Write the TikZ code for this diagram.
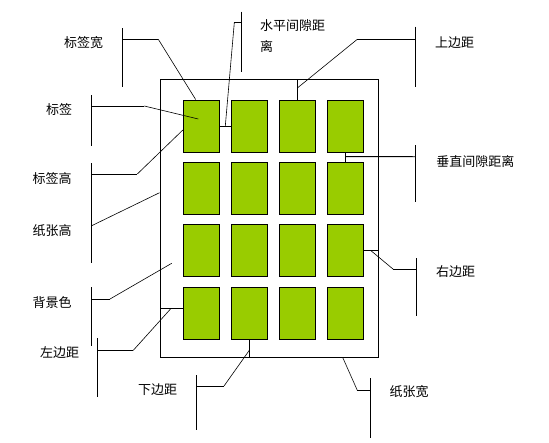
\documentclass[tikz,border=0pt]{standalone}
\usepackage{fontspec}
\newfontfamily\cjk{Noto Sans CJK SC}
\usetikzlibrary{positioning, calc}
\definecolor{labelgreen}{RGB}{153, 204, 0}
\tikzset{
  paperbox/.style={rectangle, draw=black, line width=0.9pt, fill=white,
              minimum width=218pt, minimum height=278pt, inner sep=0pt},
  labelbox/.style={rectangle, draw=black, line width=0.9pt, fill=labelgreen,
              minimum width=36pt, minimum height=52pt, inner sep=0pt},
  tag/.style={font=\cjk\fontsize{13}{21}\selectfont, inner sep=0pt},
  bar/.style={line width=0.9pt},
  lead/.style={line width=0.6pt},
}
\begin{document}
\begin{tikzpicture}[x=1pt, y=-1pt]
    \useasboundingbox (0,0) rectangle (549,442);

    % paper and the 4x4 labels
    \node[paperbox] (paper) at (269,218) {};
    \foreach \r in {1,...,4}
      \foreach \c in {1,...,4}
        \node[labelbox] (lbl-\r-\c) at ({153.3+48*\c}, {63.6+62.4*\r}) {};

    % texts
    \node[tag] (t-lblw) at (83.7,42.7) {标签宽};
    \node[tag, anchor=north west, align=left] (t-hgap) at (260,19.5) {水平间隙距\\离};
    \node[tag] (t-top) at (454.5,42.7) {上边距};
    \node[tag] (t-lbl) at (59.2,110) {标签};
    \node[tag] (t-vgap) at (475.3,161.7) {垂直间隙距离};
    \node[tag] (t-lblh) at (52.2,178.3) {标签高};
    \node[tag] (t-paperh) at (52.2,230.7) {纸张高};
    \node[tag] (t-bg) at (52.2,302.7) {背景色};
    \node[tag] (t-right) at (455.5,271.7) {右边距};
    \node[tag] (t-left) at (59.5,352.7) {左边距};
    \node[tag] (t-bottom) at (157.5,389.3) {下边距};
    \node[tag] (t-paperw) at (409.2,391.7) {纸张宽};

    % margin and gap markers
    \coordinate (hgap-mid) at ($(lbl-1-1.east)!0.5!(lbl-1-2.west)$);
    \draw[bar] (lbl-1-1.east) -- (lbl-1-2.west);
    \draw[bar] (lbl-1-3.north) -- (lbl-1-3.north |- paper.north);
    \coordinate (top-mid) at ($(lbl-1-3.north)!0.5!(lbl-1-3.north |- paper.north)$);
    \draw[bar] (lbl-1-4.south) -- (lbl-2-4.north);
    \coordinate (vgap-mid) at ($(lbl-1-4.south)!0.44!(lbl-2-4.north)$);
    \draw[bar] (lbl-3-4.east) -- (lbl-3-4.east -| paper.east);
    \coordinate (right-mid) at ($(lbl-3-4.east)!0.5!(lbl-3-4.east -| paper.east)$);
    \coordinate (left-in) at ($(lbl-4-1.west)+(0,-5)$);
    \draw[bar] (left-in) -- (left-in -| paper.west);
    \coordinate (left-mid) at ($(left-in)!0.5!(left-in -| paper.west)$);
    \draw[bar] (lbl-4-2.south) -- (lbl-4-2.south |- paper.south);
    \coordinate (bottom-mid) at ($(lbl-4-2.south)!0.6!(lbl-4-2.south |- paper.south)$);

    % callouts, left side
    \draw[bar] (122.7,28) -- (122.7,87);
    \draw[bar] (122.7,39.3) -- (158.3,39.3) coordinate (k-lblw);
    \draw[lead] (k-lblw) -- ($(lbl-1-1.north)+(-5.6,0)$);

    \draw[bar] (91.7,95) -- (91.7,145.7);
    \draw[bar] (91.7,106) -- (144.3,106) coordinate (k-lbl);
    \draw[lead] (k-lbl) -- ($(lbl-1-1.center)+(-3,-7)$);

    \draw[bar] (91.7,163.3) -- (91.7,213.3);
    \draw[bar] (91.7,174) -- (137.3,174) coordinate (k-lblh);
    \draw[lead] (k-lblh) -- ($(lbl-1-1.west)+(0,4)$);

    \draw[bar] (91.7,213.3) coordinate (k-paperh) -- (91.7,263.3);
    \draw[lead] ($(k-paperh)+(0,12.4)$) -- (paper.west |- 0,192.7);

    \draw[bar] (91.7,287.3) -- (91.7,346);
    \draw[bar] (91.7,299) -- (110,299) coordinate (k-bg);
    \draw[lead] (k-bg) -- (171.7,263.3) coordinate (bg-spot);

    \draw[bar] (97.3,338.3) -- (97.3,397.3);
    \draw[bar] (97.3,350.3) -- (133.3,350.3) coordinate (k-left);
    \draw[lead] (k-left) -- (left-mid);

    \draw[bar] (196.7,375) -- (196.7,430);
    \draw[bar] (196.7,386) -- (224,386) coordinate (k-bottom);
    \draw[lead] (k-bottom) -- (bottom-mid);

    % callouts, top and right side
    \draw[bar] (241.3,11.7) -- (241.3,71.7);
    \draw[bar] (241.3,22.7) -- (234.3,22.7) coordinate (k-hgap);
    \draw[lead] (k-hgap) -- (hgap-mid);

    \draw[bar] (415.3,26.7) -- (415.3,87.3);
    \draw[bar] (415.3,39.3) -- (357.3,39.3) coordinate (k-top);
    \draw[lead] (k-top) -- ($(top-mid)+(0,-1)$);

    \draw[bar] (415.3,145) -- (415.3,201.7);
    \draw[bar] (415.3,156.7) -- (vgap-mid);

    \draw[bar] (416,258.3) -- (416,315.7);
    \draw[bar] (416,269.3) -- (393.3,269.3) coordinate (k-right);
    \draw[lead] (k-right) -- (right-mid);

    \draw[bar] (370,378.3) -- (370,438.3);
    \draw[bar] (370,390.3) -- (357.3,390.3) coordinate (k-paperw);
    \draw[lead] (k-paperw) -- ($(paper.south)+(73.7,0)$);
  \end{tikzpicture}
\end{document}
